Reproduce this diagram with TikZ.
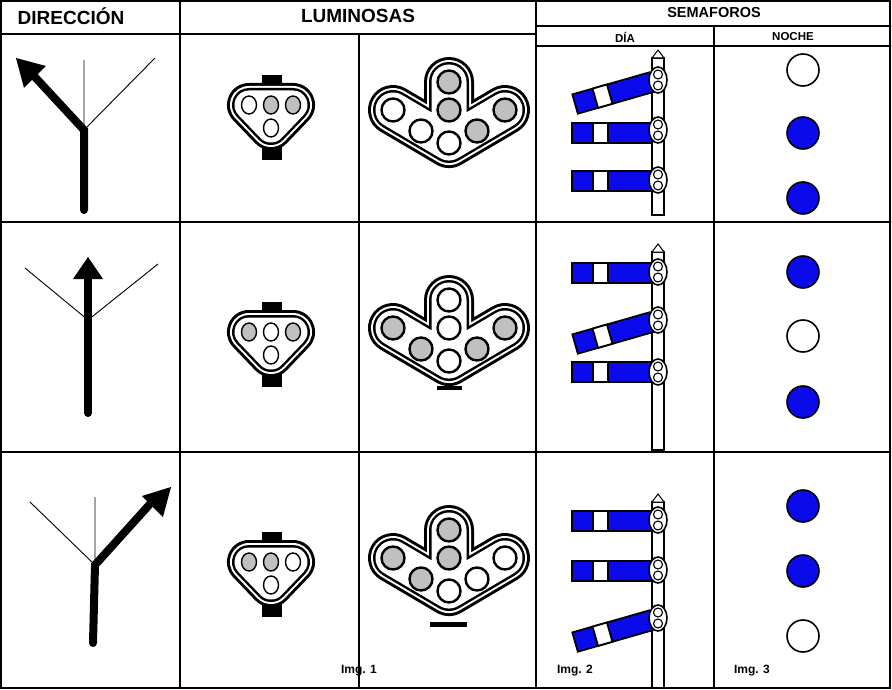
\documentclass[tikz,border=0pt]{standalone}
\usepackage{fontspec}
\setmainfont{Liberation Sans}
\definecolor{sblue}{RGB}{10,10,235}
\definecolor{lgray}{RGB}{192,192,192}
\begin{document}
\begin{tikzpicture}[x=1pt,y=-1pt,
  grid/.style={line width=2pt},
  thin/.style={line width=0.9pt},
  thickarrow/.style={line width=8pt,line cap=round},
  lamp/.style={draw,line width=2.4pt,fill=white},
  hdr/.style={font=\bfseries\fontsize{19}{19}\selectfont},
  sub/.style={font=\bfseries\fontsize{11.5}{11.5}\selectfont},
  imgl/.style={font=\bfseries\fontsize{12}{12}\selectfont}]
\useasboundingbox (0,0) rectangle (892,690);
% grid
\draw[grid] (1,1) rectangle (890,688);
\draw[grid] (180,1)--(180,688);
\draw[grid] (536,1)--(536,688);
\draw[grid] (359,34)--(359,688);
\draw[grid] (714,26)--(714,688);
\draw[grid] (1,34)--(536,34);
\draw[grid] (536,26)--(890,26);
\draw[grid] (536,46)--(890,46);
\draw[grid] (1,222)--(890,222);
\draw[grid] (1,452)--(890,452);
\node[hdr] (h1) at (71,16) {DIRECCIÓN};
\node[hdr] (h2) at (358,16) {LUMINOSAS};
\node[font=\bfseries\fontsize{14.5}{14.5}\selectfont] (h3) at (714,13) {SEMAFOROS};
\node[sub] (h4) at (625,37) {DÍA};
\node[sub] (h5) at (793,37) {NOCHE};
\node[imgl] (i1) at (359,671) {Img. 1};
\node[imgl] (i2) at (575,671) {Img. 2};
\node[imgl] (i3) at (752,671) {Img. 3};
% direction arrows
\coordinate (a1) at (84,130);
\draw[thin] (a1)--(84,60) (a1)--(155,58);
\draw[thickarrow] (84,210)--(a1)--(34,76);
\fill (16,58)--(46,66)--(24,88)--cycle;
\coordinate (a2) at (88,320);
\draw[thin] (a2)--(25,268) (a2)--(158,264);
\draw[thickarrow] (88,413)--(88,276);
\fill (88,257)--(73,279)--(103,279)--cycle;
\coordinate (a3) at (95,565);
\draw[thin] (a3)--(95,497) (a3)--(30,502);
\draw[thickarrow] (93,643)--(a3)--(150,504);
\fill (171,487)--(142,496)--(163,517)--cycle;
% small signals
\newcommand{\smallsig}[4]{% y center, gray flags L M R
 \begin{scope}[shift={(0,#1)}]
  \fill (262,-43) rectangle (282,-28);
  \fill (262,28) rectangle (282,42);
  \foreach \w/\c in {44/black,38/white,34/black,29/white}
   \filldraw[draw=\c,fill=\c,line width=\w pt,line join=round] (249,-13)--(293,-13)--(271,10)--cycle;
  \draw[lamp,line width=1.4pt,fill=#2] (249,-13) ellipse (7.5 and 9);
  \draw[lamp,line width=1.4pt,fill=#3] (271,-13) ellipse (7.5 and 9);
  \draw[lamp,line width=1.4pt,fill=#4] (293,-13) ellipse (7.5 and 9);
  \draw[lamp,line width=1.4pt] (271,10) ellipse (7.5 and 9);
 \end{scope}}
\smallsig{118}{white}{lgray}{lgray}
\smallsig{345}{lgray}{white}{lgray}
\smallsig{575}{lgray}{lgray}{white}
% large signals
\newcommand{\bigsig}[8]{% y top, T M L L2 R2 R, foot
 \begin{scope}[shift={(0,#1)}]
  #8
  \foreach \w/\c in {50/black,44/white,40/black,35/white}
   \draw[\c,line width=\w pt,line join=round,line cap=round] (393,28)--(449,61)--(505,28) (449,0)--(449,61);
  \draw[lamp,fill=#2] (449,0) circle (11.5);
  \draw[lamp,fill=#3] (449,28) circle (11.5);
  \draw[lamp] (449,61) circle (11.5);
  \draw[lamp,fill=#4] (393,28) circle (11.5);
  \draw[lamp,fill=#5] (421,49) circle (11.5);
  \draw[lamp,fill=#6] (477,49) circle (11.5);
  \draw[lamp,fill=#7] (505,28) circle (11.5);
 \end{scope}}
\bigsig{82}{lgray}{lgray}{white}{white}{lgray}{lgray}{}
\bigsig{300}{white}{white}{lgray}{lgray}{lgray}{lgray}{\fill (437,86) rectangle (462,90);}
\bigsig{530}{lgray}{lgray}{lgray}{lgray}{white}{white}{\fill (430,92) rectangle (467,97);}
% semaphores
\newcommand{\mast}[2]{\draw[line width=1.5pt,fill=white] (652,#1) rectangle (664,#2);
  \filldraw[line width=1pt,fill=white] (652,#1)--(658,#1-8)--(664,#1)--cycle;}
\newcommand{\arm}[3]{% x y angle
 \begin{scope}[shift={(#1,#2)},rotate=#3]
  \filldraw[line width=1.8pt,fill=sblue] (-80,-10) rectangle (0,10);
  \filldraw[line width=1.8pt,fill=white] (-59,-10) rectangle (-44,10);
 \end{scope}}
\newcommand{\housing}[2]{\draw[line width=1.6pt,fill=white] (658,#2) ellipse (9 and 13);
  \draw[line width=1.1pt] (658,#2-5.5) circle (4.5) (658,#2+5.5) circle (4.5);}
\mast{58}{215}
\arm{652}{82}{16}\arm{652}{133}{0}\arm{652}{181}{0}
\housing{}{80}\housing{}{130}\housing{}{180}
\mast{252}{450}
\arm{652}{322}{16}\arm{652}{273}{0}\arm{652}{372}{0}
\housing{}{272}\housing{}{320}\housing{}{372}
\mast{502}{688}
\arm{652}{521}{0}\arm{652}{571}{0}\arm{652}{620}{16}
\housing{}{520}\housing{}{570}\housing{}{618}
% noche
\foreach \y/\c in {70/white,133/sblue,198/sblue,272/sblue,336/white,402/sblue,506/sblue,571/sblue,636/white}
  \draw[line width=1.6pt,fill=\c] (803,\y) circle (16);
\end{tikzpicture}
\end{document}
